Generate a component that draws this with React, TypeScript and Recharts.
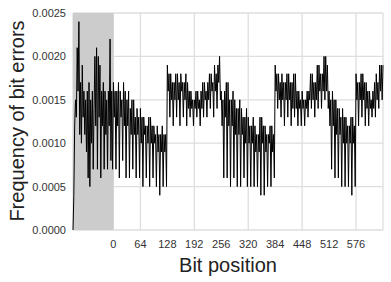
import { LineChart, Line, XAxis, YAxis, CartesianGrid, ReferenceArea, Label } from 'recharts'

// bit error frequency sampled every 2 bit positions, starting at -96
const START_BIT = -96
const BIT_STEP = 2

const preambleErrors = [
  0.0000, 0.0004, 0.0012, 0.0015, 0.0013, 0.0021, 0.0016, 0.0024,
  0.0011, 0.0017, 0.0010, 0.0019, 0.0013, 0.0016, 0.0011, 0.0015,
  0.0009, 0.0016, 0.0006, 0.0017, 0.0005, 0.0015, 0.0010, 0.0016,
  0.0007, 0.0014, 0.0020, 0.0012, 0.0021, 0.0007, 0.0020, 0.0013,
  0.0019, 0.0006, 0.0016, 0.0012, 0.0017, 0.0007, 0.0016, 0.0011,
  0.0015, 0.0007, 0.0016, 0.0012, 0.0022, 0.0008, 0.0016, 0.0007,
]
const block0Errors = [
  0.0017, 0.0013, 0.0016, 0.0007, 0.0016, 0.0012, 0.0017, 0.0006,
  0.0016, 0.0013, 0.0015, 0.0008, 0.0017, 0.0012, 0.0016, 0.0006,
  0.0015, 0.0012, 0.0016, 0.0006, 0.0014, 0.0011, 0.0015, 0.0007,
  0.0015, 0.0011, 0.0013, 0.0006, 0.0014, 0.0011, 0.0013, 0.0006,
  0.0014, 0.0010, 0.0013, 0.0005, 0.0013, 0.0011, 0.0012, 0.0006,
  0.0012, 0.0010, 0.0013, 0.0005, 0.0013, 0.0010, 0.0012, 0.0006,
  0.0012, 0.0010, 0.0011, 0.0005, 0.0012, 0.0009, 0.0011, 0.0004,
  0.0011, 0.0009, 0.0012, 0.0005, 0.0011, 0.0009, 0.0011, 0.0005,
]
const block1Errors = [
  0.0019, 0.0016, 0.0018, 0.0013, 0.0018, 0.0015, 0.0017, 0.0012,
  0.0017, 0.0015, 0.0018, 0.0013, 0.0018, 0.0015, 0.0017, 0.0012,
  0.0018, 0.0016, 0.0017, 0.0013, 0.0017, 0.0015, 0.0018, 0.0012,
  0.0017, 0.0014, 0.0016, 0.0013, 0.0016, 0.0014, 0.0015, 0.0012,
  0.0015, 0.0014, 0.0016, 0.0013, 0.0016, 0.0014, 0.0015, 0.0012,
  0.0016, 0.0014, 0.0017, 0.0013, 0.0017, 0.0015, 0.0016, 0.0013,
  0.0017, 0.0015, 0.0018, 0.0014, 0.0018, 0.0016, 0.0017, 0.0013,
  0.0019, 0.0016, 0.0018, 0.0014, 0.0019, 0.0017, 0.0020, 0.0015,
]
const block2Errors = [
  0.0016, 0.0012, 0.0015, 0.0006, 0.0016, 0.0013, 0.0017, 0.0006,
  0.0017, 0.0012, 0.0015, 0.0005, 0.0015, 0.0012, 0.0016, 0.0006,
  0.0015, 0.0011, 0.0014, 0.0005, 0.0014, 0.0011, 0.0015, 0.0005,
  0.0014, 0.0011, 0.0013, 0.0006, 0.0013, 0.0010, 0.0014, 0.0005,
  0.0013, 0.0010, 0.0012, 0.0005, 0.0012, 0.0010, 0.0013, 0.0005,
  0.0012, 0.0009, 0.0011, 0.0005, 0.0011, 0.0009, 0.0013, 0.0004,
  0.0013, 0.0010, 0.0012, 0.0004, 0.0012, 0.0009, 0.0011, 0.0005,
  0.0011, 0.0010, 0.0012, 0.0005, 0.0012, 0.0009, 0.0011, 0.0006,
]
const block3Errors = [
  0.0019, 0.0016, 0.0018, 0.0014, 0.0018, 0.0015, 0.0017, 0.0013,
  0.0018, 0.0015, 0.0017, 0.0012, 0.0017, 0.0015, 0.0018, 0.0013,
  0.0018, 0.0015, 0.0017, 0.0012, 0.0017, 0.0014, 0.0018, 0.0013,
  0.0018, 0.0014, 0.0016, 0.0012, 0.0016, 0.0014, 0.0015, 0.0012,
  0.0016, 0.0014, 0.0015, 0.0012, 0.0015, 0.0014, 0.0016, 0.0013,
  0.0016, 0.0015, 0.0018, 0.0014, 0.0018, 0.0015, 0.0017, 0.0013,
  0.0017, 0.0015, 0.0019, 0.0014, 0.0019, 0.0016, 0.0018, 0.0014,
  0.0018, 0.0016, 0.0020, 0.0015, 0.0020, 0.0016, 0.0019, 0.0014,
]
const block4Errors = [
  0.0016, 0.0012, 0.0015, 0.0007, 0.0016, 0.0012, 0.0015, 0.0006,
  0.0015, 0.0011, 0.0014, 0.0006, 0.0014, 0.0011, 0.0013, 0.0005,
  0.0014, 0.0010, 0.0013, 0.0005, 0.0013, 0.0010, 0.0012, 0.0005,
  0.0012, 0.0010, 0.0013, 0.0004, 0.0013, 0.0010, 0.0012, 0.0005,
]
const block5Errors = [
  0.0018, 0.0015, 0.0017, 0.0012, 0.0017, 0.0015, 0.0018, 0.0013,
  0.0018, 0.0015, 0.0017, 0.0012, 0.0017, 0.0014, 0.0016, 0.0012,
  0.0016, 0.0014, 0.0015, 0.0013, 0.0016, 0.0014, 0.0017, 0.0013,
  0.0018, 0.0015, 0.0017, 0.0014, 0.0019, 0.0016, 0.0019, 0.0015,
  0.0019,
]

const xTicks = [0, 64, 128, 192, 256, 320, 384, 448, 512, 576, 640]
const yTicks = [0, 0.0005, 0.001, 0.0015, 0.002, 0.0025]

const allErrors = [
  ...preambleErrors,
  ...block0Errors,
  ...block1Errors,
  ...block2Errors,
  ...block3Errors,
  ...block4Errors,
  ...block5Errors,
]

const data = allErrors.map((freq, i) => ({ bit: START_BIT + i * BIT_STEP, freq }))

const font = '"Liberation Sans", Arial, sans-serif'

export default function App() {
  return (
    <div style={{ position: 'absolute', left: 0, top: 0, background: '#fff' }}>
      <LineChart width={391} height={282} data={data} margin={{ top: 13, right: 8, bottom: 0, left: 0 }}>
        <CartesianGrid stroke="#dedede" strokeWidth={1.3} />
        <ReferenceArea x1={-96} x2={0} y1={0} y2={0.0025} fill="#cccccc" fillOpacity={1} stroke="none" />
        <XAxis
          dataKey="bit"
          type="number"
          domain={[-96, 640]}
          ticks={xTicks}
          tickFormatter={(v) => (v === 640 ? '' : String(v))}
          axisLine={false}
          tickLine={false}
          tickMargin={4}
          height={52}
          tick={{ fontSize: 11, fill: '#333', fontFamily: font }}
        >
          <Label
            value="Bit position"
            position="insideBottom"
            offset={10}
            style={{ fontSize: 20, fill: '#222', fontFamily: font }}
          />
        </XAxis>
        <YAxis
          type="number"
          domain={[0, 0.0025]}
          ticks={yTicks}
          tickFormatter={(v) => v.toFixed(4)}
          axisLine={false}
          tickLine={false}
          tickMargin={1}
          width={73}
          tick={{ fontSize: 11, fill: '#333', fontFamily: font }}
        >
          <Label
            content={() => (
              <text
                x={17}
                y={121}
                transform="rotate(-90, 17, 121)"
                textAnchor="middle"
                dominantBaseline="central"
                style={{ fontSize: 20, fill: '#222', fontFamily: font }}
              >
                Frequency of bit errors
              </text>
            )}
          />
        </YAxis>
        <Line
          type="linear"
          dataKey="freq"
          stroke="#000"
          strokeWidth={1}
          dot={false}
          isAnimationActive={false}
        />
      </LineChart>
    </div>
  )
}
